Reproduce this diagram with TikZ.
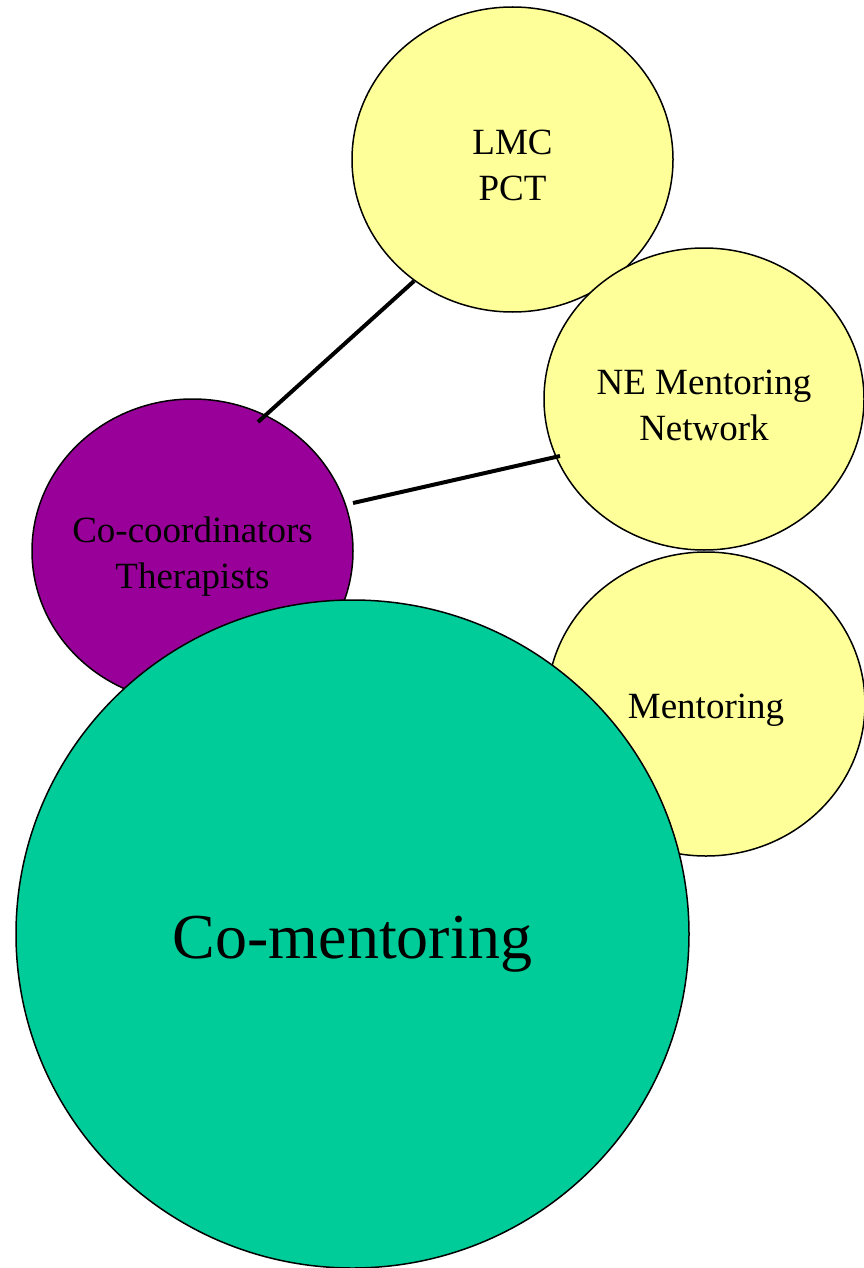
\documentclass[tikz,border=0pt]{standalone}
\usepackage{fontspec}
\setmainfont{Liberation Serif}
\usetikzlibrary{shapes.geometric}

\definecolor{paleyellow}{HTML}{FFFF99}
\definecolor{plum}{HTML}{990099}
\definecolor{seagreen}{HTML}{00CC99}

\begin{document}
\begin{tikzpicture}
	[
		x=1pt, y=-1pt,
		% Make a style for a circle of the diagram.
		bubble/.style={ellipse, draw=black, line width=1.5pt, inner sep=0pt},
		% And one for the text written in it.
		btext/.style={label={[anchor=center, align=center, yshift=-6pt,
			font=\fontsize{37}{46}\selectfont]center:{#1}}},
		% And one for the thick connecting lines.
		link/.style={line width=4pt}
	]
		\useasboundingbox (0,0) rectangle (863,1268);

		\node[bubble, fill=paleyellow, minimum width=321pt, minimum height=305pt,
			btext={LMC\\PCT}] (lmc) at (512.5,159.5) {};
		\node[bubble, fill=paleyellow, minimum width=320pt, minimum height=302pt,
			btext={NE Mentoring\\Network}] (ne) at (704,399) {};
		\node[bubble, fill=paleyellow, minimum width=318pt, minimum height=304pt,
			btext={Mentoring}] (mentoring) at (706,704) {};
		\node[bubble, fill=plum, minimum width=321pt, minimum height=304pt,
			btext={Co-coordinators\\Therapists}] (cocoord) at (192.5,551) {};
		\node[bubble, fill=seagreen, minimum width=673pt, minimum height=668pt,
			label={[anchor=center, yshift=-10pt, font=\fontsize{64}{72}\selectfont]center:Co-mentoring}]
			(comentoring) at (352.5,934) {};

		\coordinate (cc-top) at (258,422);
		\coordinate (cc-right) at (353,503);
		\coordinate (ne-left) at (560,456);

		% Draw lines
		\draw[link] (lmc.231) -- (cc-top);
		\draw[link] (cc-right) -- (ne-left);
	\end{tikzpicture}
\end{document}
